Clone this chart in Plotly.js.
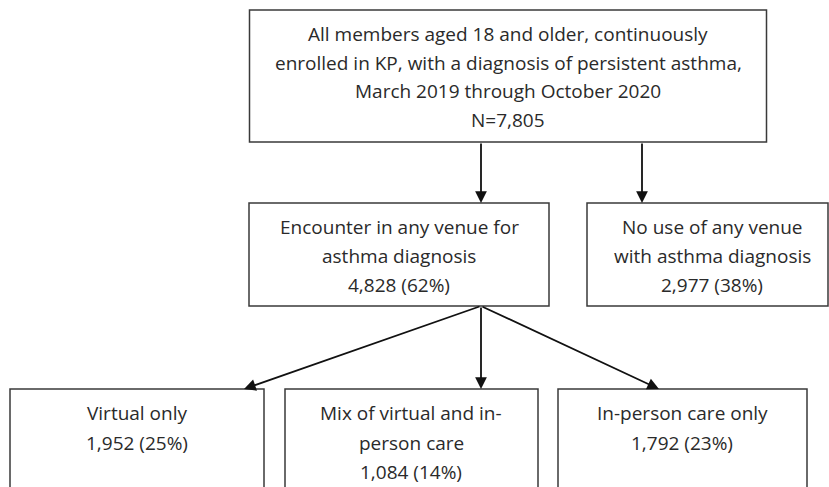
<!DOCTYPE html>
<html>
<head>
<meta charset="utf-8">
<script src="https://cdn.plot.ly/plotly-3.0.1.min.js"></script>
<style>html,body{margin:0;padding:0;background:#fff}#chart{width:829px;height:487px}</style>
</head>
<body>
<div id="chart"></div>
<script>
// ---- data ----
const boxNames = ["All members", "Encounter", "No use", "Virtual only", "Mix", "In-person only"];
const boxText = [
  ["All members aged 18 and older, continuously", "enrolled in KP, with a diagnosis of persistent asthma,", "March 2019 through October 2020"],
  ["Encounter in any venue for", "asthma diagnosis"],
  ["No use of any venue", "with asthma diagnosis"],
  ["Virtual only"],
  ["Mix of virtual and in-", "person care"],
  ["In-person care only"]
];
const counts = [7805, 4828, 2977, 1952, 1084, 1792];
const percents = [null, 62, 38, 25, 14, 23];
const links = [[0, 1], [0, 2], [1, 3], [1, 4], [1, 5]];

// ---- geometry (layout only) ----
const geom = [
  {x0: 249.5, x1: 766.5, y0: 10, y1: 142, cx: 508, ty: 34, gap: 28.5},
  {x0: 249, x1: 549, y0: 203, y1: 306, cx: 399, ty: 227, gap: 29},
  {x0: 587, x1: 828, y0: 203, y1: 306, cx: 712, ty: 227, gap: 29},
  {x0: 10, x1: 264, y0: 389, y1: 500, cx: 137, ty: 413, gap: 29.5},
  {x0: 285, x1: 538, y0: 389, y1: 500, cx: 411, ty: 413, gap: 29.5},
  {x0: 558, x1: 807, y0: 389, y1: 500, cx: 682, ty: 413, gap: 29.5}
];
const arrowGeom = [
  {tx: 481, ty: 142, hx: 481, hy: 203},
  {tx: 642, ty: 142, hx: 642, hy: 203},
  {tx: 481, ty: 306, hx: 244, hy: 389},
  {tx: 481, ty: 306, hx: 481, hy: 389},
  {tx: 481, ty: 306, hx: 659, hy: 389}
];
const fmt = n => n.toLocaleString('en-US');
const textColor = '#2a2a2a';
const font = {family: '"Open Sans", "Noto Sans", sans-serif', size: 19, color: textColor};

const shapes = geom.map(g => ({
  type: 'rect', xref: 'x', yref: 'y', x0: g.x0, x1: g.x1, y0: g.y0, y1: g.y1,
  line: {color: '#3a3a3a', width: 1.5}, fillcolor: 'rgba(0,0,0,0)'
}));

const annotations = [];
boxText.forEach((lines, i) => {
  const g = geom[i];
  const all = lines.slice();
  all.push(i === 0 ? 'N=' + fmt(counts[i]) : fmt(counts[i]) + ' (' + percents[i] + '%)');
  all.forEach((t, k) => {
    annotations.push({
      x: g.cx, y: g.ty + k * g.gap, xref: 'x', yref: 'y', text: t, showarrow: false,
      xanchor: 'center', yanchor: 'middle', font: font
    });
  });
});
links.forEach((l, i) => {
  const a = arrowGeom[i];
  annotations.push({
    x: a.hx, y: a.hy, ax: a.tx, ay: a.ty, xref: 'x', yref: 'y', axref: 'x', ayref: 'y',
    text: '', showarrow: true, arrowhead: 2, arrowsize: 1.3, arrowwidth: 1.8,
    arrowcolor: '#111', standoff: 0, startstandoff: 0
  });
});

const layout = {
  width: 829, height: 487,
  margin: {l: 0, r: 0, t: 0, b: 0},
  paper_bgcolor: '#fff', plot_bgcolor: '#fff',
  xaxis: {range: [0, 829], visible: false, fixedrange: true},
  yaxis: {range: [487, 0], visible: false, fixedrange: true},
  shapes: shapes, annotations: annotations, showlegend: false
};
Plotly.newPlot('chart', [], layout, {staticPlot: true, displayModeBar: false});
</script>
</body>
</html>
